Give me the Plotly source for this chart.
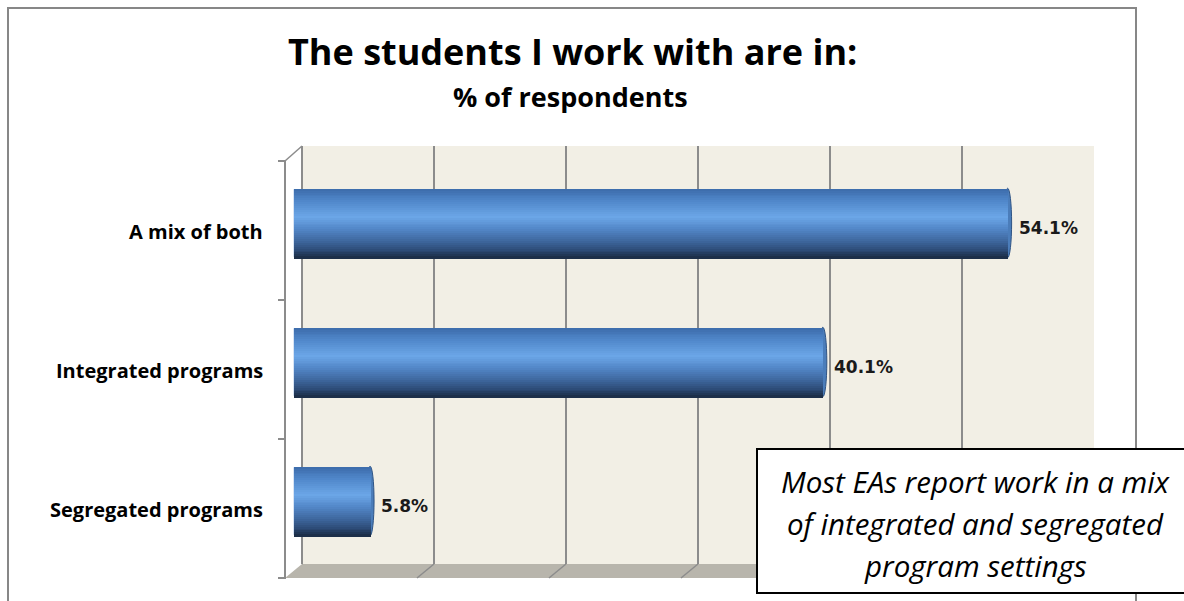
import plotly.graph_objects as go

# Survey results
categories = ["Segregated programs", "Integrated programs", "A mix of both"]
values = [5.8, 40.1, 54.1]
axis_ticks = [0, 10, 20, 30, 40, 50, 60]

W, H = 1184, 601


def px(x):
    return x / W


def py(y):
    return 1 - y / H


def hex_rgb(h):
    h = h.lstrip("#")
    return tuple(int(h[i:i + 2], 16) for i in (0, 2, 4))


# cylinder shading stops, top (0) to bottom (1)
stops = [(0.0, "#3d6cab"), (0.18, "#5087ca"), (0.40, "#6ba6e7"),
         (0.58, "#5387c8"), (0.75, "#3e679e"), (0.90, "#2a4770"),
         (1.0, "#1b2b43")]


def shade_at(t):
    for (t0, c0), (t1, c1) in zip(stops[:-1], stops[1:]):
        if t <= t1:
            f = (t - t0) / (t1 - t0)
            a, b = hex_rgb(c0), hex_rgb(c1)
            return "rgb({},{},{})".format(*[round(a[k] + (b[k] - a[k]) * f) for k in range(3)])
    return stops[-1][1]


n_bands = 36
shades = [shade_at((i + 0.5) / n_bands) for i in range(n_bands)]
bar_w = 0.5
band = bar_w / n_bands
pos = list(range(len(categories)))

fig = go.Figure()

# back wall gridlines subplot
fig.add_trace(go.Scatter(x=[0, 60], y=[0, 1], mode="markers",
                         marker=dict(opacity=0), hoverinfo="skip",
                         showlegend=False, xaxis="x", yaxis="y"))

# bars: thin overlapping bands give a cylinder look
for i, c in enumerate(shades):
    w = band if i == n_bands - 1 else band * 1.8
    fig.add_trace(go.Bar(
        x=values, y=pos, orientation="h",
        width=w, offset=bar_w / 2 - i * band - w,
        marker=dict(color=c, line=dict(width=0)),
        hoverinfo="skip", showlegend=False, xaxis="x2", yaxis="y2"))

shapes = []
# back wall and floor
shapes.append(dict(type="rect", xref="paper", yref="paper",
                   x0=px(302), x1=px(1094), y0=py(564), y1=py(146),
                   fillcolor="#f2efe5", line=dict(width=0), layer="below"))
shapes.append(dict(type="path", xref="paper", yref="paper",
                   path=f"M {px(285)},{py(578)} L {px(302)},{py(564)} L {px(1094)},{py(564)} L {px(1077)},{py(578)} Z",
                   fillcolor="#b8b5ac", line=dict(width=0), layer="below"))
# floor diagonals at each gridline
for t in axis_ticks:
    shapes.append(dict(type="line", xref="x", yref="paper", xsizemode="pixel",
                       xanchor=t, x0=0, x1=-17, y0=py(564), y1=py(578),
                       line=dict(color="#8c8c8c", width=1.5), layer="below"))
# front axis line, ticks and top diagonal
shapes.append(dict(type="line", xref="paper", yref="paper",
                   x0=px(285), x1=px(285), y0=py(161), y1=py(579),
                   line=dict(color="#8c8c8c", width=2)))
for yy in [161, 300, 439, 578]:
    shapes.append(dict(type="line", xref="paper", yref="paper",
                       x0=px(278), x1=px(285), y0=py(yy), y1=py(yy),
                       line=dict(color="#8c8c8c", width=2)))
shapes.append(dict(type="line", xref="paper", yref="paper",
                   x0=px(285), x1=px(302), y0=py(161), y1=py(146),
                   line=dict(color="#8c8c8c", width=1.5)))

# cylinder end caps
for p, v in zip(pos, values):
    shapes.append(dict(type="circle", xref="x2", yref="y2", xsizemode="pixel",
                       xanchor=0, x0=-3, x1=3, y0=p - 0.245, y1=p + 0.245,
                       fillcolor="#8fb4e2", opacity=0.7, line=dict(width=0),
                       layer="below"))
    shapes.append(dict(type="circle", xref="x2", yref="y2", xsizemode="pixel",
                       xanchor=v, x0=-4, x1=4, y0=p - 0.25, y1=p + 0.25,
                       fillcolor="#4b7dba", line=dict(color="#2f5485", width=1),
                       layer="below"))

# outer chart border
shapes.append(dict(type="rect", xref="paper", yref="paper",
                   x0=px(8), x1=px(1136), y0=py(640), y1=py(8),
                   line=dict(color="#878787", width=2), layer="below"))
# note box
shapes.append(dict(type="rect", xref="paper", yref="paper",
                   x0=px(757), x1=px(1200), y0=py(593), y1=py(449),
                   fillcolor="white", line=dict(color="black", width=2),
                   layer="above"))

annotations = []
for p, c in zip(pos, categories):
    annotations.append(dict(text=c, xref="paper", yref="y2", x=px(265), y=p,
                            xanchor="right", yanchor="middle", yshift=-8,
                            showarrow=False,
                            font=dict(family="Open Sans", size=20, color="black",
                                      weight="bold")))
for p, v in zip(pos, values):
    annotations.append(dict(text=f"{v:.1f}%", xref="x2", yref="y2", x=v, y=p,
                            xanchor="left", yanchor="middle", xshift=9,
                            yshift=-5, showarrow=False,
                            font=dict(family="DejaVu Sans", size=17,
                                      color="#1a1a1a", weight="bold")))
annotations.append(dict(text="The students I work with are in:", xref="paper",
                        yref="paper", x=px(572), y=py(51), xanchor="center",
                        yanchor="middle", showarrow=False,
                        font=dict(family="Open Sans", size=36, color="black",
                                  weight="bold")))
annotations.append(dict(text="% of respondents", xref="paper", yref="paper",
                        x=px(570), y=py(97), xanchor="center", yanchor="middle",
                        showarrow=False,
                        font=dict(family="Open Sans", size=27, color="black",
                                  weight="bold")))
note_lines = ["Most EAs report work in a mix",
              "of integrated and segregated",
              "program settings"]
for k, line in enumerate(note_lines):
    annotations.append(dict(text=line, xref="paper", yref="paper",
                            x=px(975), y=py(481 + 42 * k), xanchor="center",
                            yanchor="middle", showarrow=False,
                            font=dict(family="Open Sans", size=29.5, color="black",
                                      style="italic")))

fig.update_layout(
    width=W, height=H, margin=dict(l=0, r=0, t=0, b=0),
    paper_bgcolor="white", plot_bgcolor="rgba(0,0,0,0)",
    barmode="overlay", bargap=0, showlegend=False,
    shapes=shapes, annotations=annotations,
    xaxis=dict(domain=[px(302), px(1094)], range=[0, 60], tickvals=axis_ticks,
               showgrid=True, gridcolor="#8c8c8c", gridwidth=1.5,
               zeroline=True, zerolinecolor="#8c8c8c", zerolinewidth=1.5,
               showticklabels=False, ticks="", showline=False, fixedrange=True),
    yaxis=dict(domain=[py(564), py(146)], range=[0, 1], visible=False,
               fixedrange=True),
    xaxis2=dict(domain=[px(293.5), px(1085.5)], range=[0, 60], anchor="y2",
                showgrid=False, zeroline=False, showticklabels=False,
                showline=False, ticks="", fixedrange=True),
    yaxis2=dict(domain=[py(570.5), py(153.5)], range=[-0.5, 2.5], anchor="x2",
                showgrid=False, zeroline=False, showticklabels=False,
                showline=False, ticks="", fixedrange=True),
)

fig.write_html("out.html")
